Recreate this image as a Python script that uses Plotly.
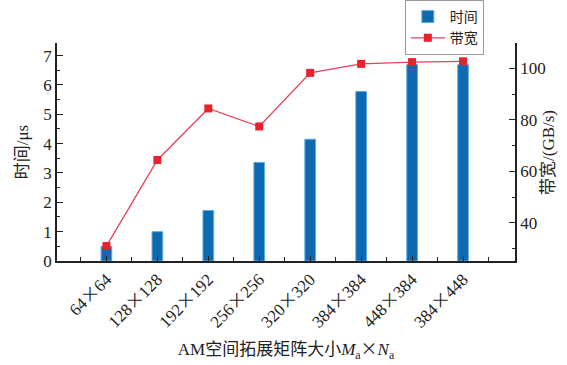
import plotly.graph_objects as go

categories = ["64×64", "128×128", "192×192", "256×256", "320×320", "384×384", "448×384", "384×448"]
time_us = [0.5, 1.0, 1.72, 3.36, 4.15, 5.78, 6.70, 6.69]
bandwidth = [31.0, 64.4, 84.4, 77.4, 98.2, 101.7, 102.4, 102.7]

FONT = "Liberation Serif, Noto Sans CJK SC, serif"
CJK = "Noto Sans CJK SC"
xs = list(range(len(categories)))
ticktext = [c.replace("×", f"<span style='font-family:{CJK}'>×</span>") for c in categories]

fig = go.Figure()
fig.add_trace(go.Bar(
    x=xs, y=time_us, name="时间", width=0.21,
    marker=dict(color="#0f69b0", line=dict(color="#5aaee6", width=1)),
    yaxis="y",
))
fig.add_trace(go.Scatter(
    x=xs, y=bandwidth, name="带宽", mode="lines+markers",
    line=dict(color="#e8405a", width=1.3),
    marker=dict(symbol="square", size=8, color="#e8222c"),
    yaxis="y2",
))

fig.update_layout(
    width=567, height=365,
    margin=dict(l=57, r=52, t=43, b=104, autoexpand=False),
    paper_bgcolor="white", plot_bgcolor="white",
    font=dict(family=FONT, size=17, color="#222"),
    bargap=0.5,
    showlegend=True,
    legend=dict(xref="container", yref="container", x=0.714, y=1.0,
                xanchor="left", yanchor="top",
                bgcolor="white", bordercolor="#999", borderwidth=1,
                font=dict(size=14), tracegroupgap=0, itemwidth=34,
                traceorder="normal"),
    xaxis=dict(
        range=[-0.97, 8.02], tickvals=xs, ticktext=ticktext,
        tickangle=-45, ticks="inside", ticklen=5, tickcolor="#222",
        showline=True, linecolor="#222", linewidth=1.5,
        showgrid=False, zeroline=False,
        minor=dict(tick0=-0.5, dtick=1, ticks="inside", ticklen=4, tickcolor="#222"),
        tickfont=dict(size=17),
        title=dict(text=f"AM空间拓展矩阵大小<i>M</i><sub>a</sub><span style='font-family:{CJK}'>×</span><i>N</i><sub>a</sub>",
                   font=dict(size=17), standoff=12),
    ),
    yaxis=dict(
        range=[0, 7.43], dtick=1, ticks="inside", ticklen=6, tickcolor="#222",
        showline=True, linecolor="#222", linewidth=1.5,
        showgrid=False, zeroline=False,
        minor=dict(dtick=0.5, ticks="inside", ticklen=3, tickcolor="#222"),
        tickfont=dict(size=17),
        title=dict(text="时间/μs", font=dict(size=17), standoff=10),
    ),
    yaxis2=dict(
        range=[25.2, 109.8], overlaying="y", side="right",
        tickvals=[40, 60, 80, 100], ticks="inside", ticklen=6, tickcolor="#222",
        showline=True, linecolor="#222", linewidth=1.5,
        showgrid=False, zeroline=False,
        minor=dict(tickvals=[30, 50, 70, 90], ticks="inside", ticklen=3, tickcolor="#222"),
        tickfont=dict(size=17),
    ),
    annotations=[dict(
        text="带宽/(GB/s)", xref="paper", yref="paper", x=1.072, y=0.5,
        xanchor="center", yanchor="middle", textangle=-90, showarrow=False,
        font=dict(size=17, family=FONT),
    )],
)

fig.write_html("out.html")
